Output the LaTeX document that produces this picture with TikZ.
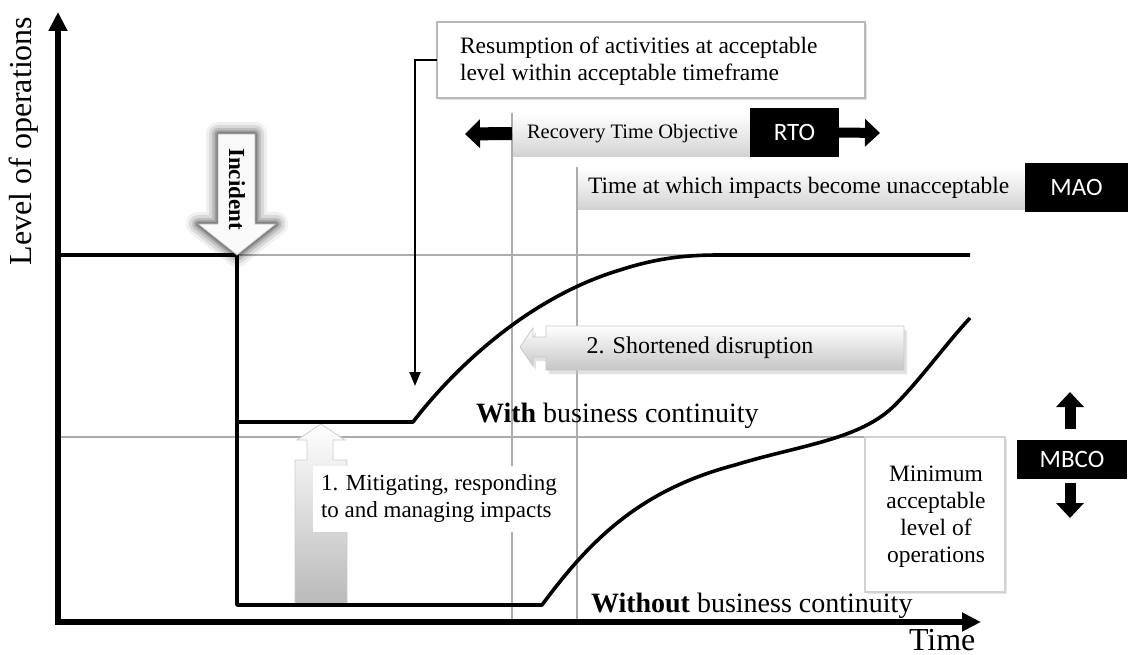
\documentclass[tikz,border=0pt]{standalone}
\usepackage{fontspec}
\setmainfont{Liberation Serif}
\newfontfamily\calib{Carlito}
\usetikzlibrary{arrows.meta,shadows}
\tikzset{
  axisline/.style={line width=5.5pt, line join=miter},
  curveline/.style={line width=3.6pt, line join=round},
  guide/.style={line width=1.6pt, draw=gray!65},
  barbox/.style={top color=white, bottom color=gray!32, draw=none, minimum height=41pt, anchor=north west,
     drop shadow={shadow xshift=1pt, shadow yshift=-3pt, opacity=0.35}},
  blackbox/.style={fill=black, text=white, font=\calib\fontsize{25}{30}\selectfont, anchor=north west},
  callout/.style={fill=white, draw=gray!55, line width=1.5pt},
  fs/.style={font=\fontsize{#1}{27}\selectfont},
  every node/.style={inner sep=0pt, outer sep=0pt},
}
\begin{document}
\begin{tikzpicture}[x=1pt,y=-1pt]
\useasboundingbox (0,0) rectangle (1128,655);
% key coordinates
\coordinate (O) at (58,622);
\coordinate (ytip) at (58,12);
\coordinate (xtip) at (981,622);
\coordinate (n0) at (58,255);
\coordinate (drop) at (237,255);
\coordinate (wbc0) at (237,422);
\coordinate (wbc1) at (413,422);
\coordinate (wbc2) at (620,270);
\coordinate (wbc3) at (720,255);
\coordinate (wbc4) at (970,255);
\coordinate (nbc0) at (237,605);
\coordinate (nbc1) at (542,605);
\coordinate (nbc2) at (735,465);
\coordinate (nbc3) at (895,405);
\coordinate (nbc4) at (970,318);

% guide lines
\draw[guide] (n0) -- (970,255);
\draw[guide] (58,437) -- (1005,437);

% bars
\node[barbox, minimum width=240pt] (rtobar) at (512,113) {};
\node[barbox, minimum width=448pt, minimum height=40pt] (maobar) at (577,167) {};
\draw[guide] (rtobar.north west) -- (rtobar.north west |- O);
\draw[guide] (maobar.north west) -- (maobar.north west |- O);
\node[fs=20.5, anchor=west] (rtotext) at (527,134) {Recovery Time Objective};
\node[fs=23.5, anchor=west] (maotext) at (588,188) {Time at which impacts become unacceptable};
\node[blackbox, minimum width=89pt, minimum height=49pt] (rto) at (750,108) {RTO};
\node[blackbox, minimum width=103pt, minimum height=49pt] (mao) at (1025,163) {MAO};
\coordinate (rtoL) at (465,134);
\coordinate (rtoR) at (880,133);
\draw[line width=13pt, -{Triangle[length=15pt,width=28pt]}] (rtobar.west) -- (rtoL);
\draw[line width=10pt, -{Triangle[length=15pt,width=27pt]}] (rto.east) -- (rtoR);

% resumption callout
\node[callout, anchor=north west, minimum width=428pt, minimum height=76pt,
  drop shadow={shadow xshift=2pt, shadow yshift=-2pt, opacity=0.25}] (resbox) at (437,22) {};
\node[fs=23.5, anchor=west, align=left] (restext) at (460,61)
  {Resumption of activities at acceptable\\level within acceptable timeframe};
\coordinate (restip) at (415,386);
\draw[line width=2.2pt, -{Triangle[length=14pt,width=11pt]}] (resbox.west) -| (restip);

% shortened disruption arrow
\fill[gray!45, opacity=0.5, shift={(3,4)}]
  (904,326) -- (546,326) -- (546,337) -- (533,337) -- (533,328) -- (520,347)
  -- (533,366) -- (533,357) -- (546,357) -- (546,370) -- (904,370) -- cycle;
\shade[top color=white, bottom color=gray!45, draw=gray!45, line width=0.8pt]
  (904,326) -- (546,326) -- (546,337) -- (533,337) -- (533,328) -- (520,347)
  -- (533,366) -- (533,357) -- (546,357) -- (546,370) -- (904,370) -- cycle;
\node[fs=24] (short) at (700,348) {2. Shortened disruption};

% mitigating arrow
\shade[top color=white, bottom color=gray!55, draw=gray!40, line width=0.8pt]
  (321,424) -- (345,440) -- (333,440) -- (333,460) -- (347,460) -- (347,605)
  -- (295,605) -- (295,460) -- (307,460) -- (307,440) -- (297,440) -- cycle;
\node[fill=white, anchor=west, align=left, inner xsep=8pt, inner ysep=9pt, fs=23]
  (mit) at (313,499) {1. Mitigating, responding\\to and managing impacts};

% level curves
\draw[curveline] (n0) -- (drop) -- (nbc0) -- (nbc1)
  .. controls (590,540) and (640,490) .. (nbc2)
  .. controls (800,445) and (860,440) .. (nbc3)
  .. controls (920,380) and (945,345) .. (nbc4);
\draw[curveline] (wbc0) -- (wbc1)
  .. controls (445,380) and (520,300) .. (wbc2)
  .. controls (660,257) and (690,255) .. (wbc3) -- (wbc4);

% incident arrow with glow
\foreach \w/\o in {24/0.06, 18/0.09, 12/0.13, 7/0.18, 3/0.25}{
  \draw[line width=\w pt, black, opacity=\o, line join=round]
    (218,134) -- (255,134) -- (255,224) -- (276,224) -- (237,255) -- (198,224) -- (218,224) -- cycle;
}
\filldraw[fill=gray!4, draw=gray!60, line width=0.8pt]
  (218,134) -- (255,134) -- (255,224) -- (276,224) -- (237,255) -- (198,224) -- (218,224) -- cycle;
\node[rotate=-90, font=\bfseries\fontsize{23}{27}\selectfont] (incident) at (237,189) {Incident};

% texts
\node[fs=28, anchor=base west] (withbc) at (476,422) {\textbf{With} business continuity};
\node[fs=28, anchor=base west] (withoutbc) at (591,612) {\textbf{Without} business continuity};

% minimum box
\node[fill=white, draw=gray!35, line width=2pt, minimum width=140pt, minimum height=155pt,
  drop shadow={shadow xshift=2pt, shadow yshift=-2pt, opacity=0.2}] (minbox) at (935,514.5) {};
\node[fs=23.5, align=center] (mintext) at (936,517) {Minimum\\acceptable\\level of\\operations};

% MBCO
\node[blackbox, minimum width=110pt, minimum height=39pt] (mbco) at (1017,440) {MBCO};
\coordinate (mbU) at (1070,392);
\coordinate (mbD) at (1070,518);
\draw[line width=11pt, -{Triangle[length=15pt,width=27pt]}] (1070,429) -- (mbU);
\draw[line width=11pt, -{Triangle[length=15pt,width=27pt]}] (1070,483) -- (mbD);

% axes
\draw[axisline, {Triangle[length=19pt,width=18pt]}-{Triangle[length=19pt,width=18pt]}] (ytip) -- (O) -- (xtip);
\node[rotate=90, font=\fontsize{32}{36}\selectfont] (ylab) at (24,141) {Level of operations};
\node[font=\fontsize{32}{36}\selectfont, anchor=base west] (xlab) at (909,650) {Time};
\end{tikzpicture}
\end{document}
